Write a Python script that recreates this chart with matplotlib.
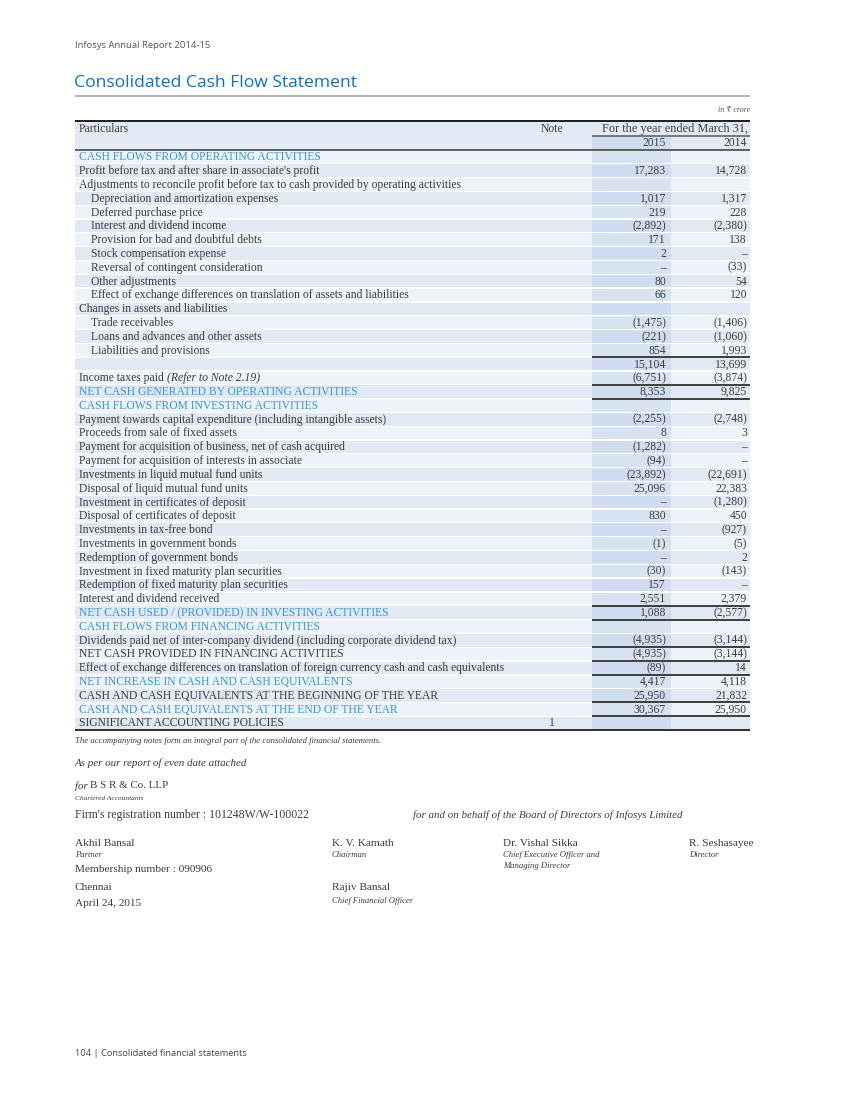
import matplotlib
matplotlib.use("Agg")
import matplotlib.pyplot as plt
from matplotlib.patches import Rectangle

# ---------------- data ----------------
labels = [
    "CASH FLOWS FROM OPERATING ACTIVITIES",
    "Profit before tax and after share in associate's profit",
    "Adjustments to reconcile profit before tax to cash provided by operating activities",
    "Depreciation and amortization expenses",
    "Deferred purchase price",
    "Interest and dividend income",
    "Provision for bad and doubtful debts",
    "Stock compensation expense",
    "Reversal of contingent consideration",
    "Other adjustments",
    "Effect of exchange differences on translation of assets and liabilities",
    "Changes in assets and liabilities",
    "Trade receivables",
    "Loans and advances and other assets",
    "Liabilities and provisions",
    "",
    "Income taxes paid",
    "NET CASH GENERATED BY OPERATING ACTIVITIES",
    "CASH FLOWS FROM INVESTING ACTIVITIES",
    "Payment towards capital expenditure (including intangible assets)",
    "Proceeds from sale of fixed assets",
    "Payment for acquisition of business, net of cash acquired",
    "Payment for acquisition of interests in associate",
    "Investments in liquid mutual fund units",
    "Disposal of liquid mutual fund units",
    "Investment in certificates of deposit",
    "Disposal of certificates of deposit",
    "Investments in tax-free bond",
    "Investments in government bonds",
    "Redemption of government bonds",
    "Investment in fixed maturity plan securities",
    "Redemption of fixed maturity plan securities",
    "Interest and dividend received",
    "NET CASH USED / (PROVIDED) IN INVESTING ACTIVITIES",
    "CASH FLOWS FROM FINANCING ACTIVITIES",
    "Dividends paid net of inter-company dividend (including corporate dividend tax)",
    "NET CASH PROVIDED IN FINANCING ACTIVITIES",
    "Effect of exchange differences on translation of foreign currency cash and cash equivalents",
    "NET INCREASE IN CASH AND CASH EQUIVALENTS",
    "CASH AND CASH EQUIVALENTS AT THE BEGINNING OF THE YEAR",
    "CASH AND CASH EQUIVALENTS AT THE END OF THE YEAR",
    "SIGNIFICANT ACCOUNTING POLICIES",
]
# row kind: 'h' blue heading, 'n' normal, 'i' indented
kinds = ["h", "n", "n", "i", "i", "i", "i", "i", "i", "i", "i", "n", "i", "i", "i", "n",
         "n", "h", "h", "n", "n", "n", "n", "n", "n", "n", "n", "n", "n", "n", "n", "n",
         "n", "h", "h", "n", "n", "n", "h", "n", "h", "n"]
notes = [""] * 41 + ["1"]
# None = blank cell, 0 = dash
v2015 = [None, 17283, None, 1017, 219, -2892, 171, 2, 0, 80, 66, None, -1475, -221, 854,
         15104, -6751, 8353, None, -2255, 8, -1282, -94, -23892, 25096, 0, 830, 0, -1, 0,
         -30, 157, 2551, 1088, None, -4935, -4935, -89, 4417, 25950, 30367, None]
v2014 = [None, 14728, None, 1317, 228, -2380, 138, 0, -33, 54, 120, None, -1406, -1060, 1993,
         13699, -3874, 9825, None, -2748, 3, 0, 0, -22691, 22383, -1280, 450, -927, -5, 2,
         -143, 0, 2379, -2577, None, -3144, -3144, 14, 4118, 21832, 25950, None]
years = ["2015", "2014"]

# ---------------- style ----------------
W, H = 850, 1100
fig = plt.figure(figsize=(W / 100, H / 100), dpi=100)
ax = fig.add_axes([0, 0, 1, 1])
ax.set_xlim(0, W)
ax.set_ylim(H, 0)
ax.axis("off")

SERIF = ["Liberation Serif", "DejaVu Serif", "DejaVu Sans"]
SANS = ["Open Sans", "DejaVu Sans"]
TXT = "#3c3c3c"
BLUE = "#3797d6"
TITLE = "#1170c0"
LIGHT = "#eef3fa"
DARK = "#e1e9f5"
C15L = "#d8e3f2"
C15D = "#d0dcef"
HEAD = "#e3eaf5"

def pt(px):
    return px * 0.72

def fmt(v):
    if v is None:
        return ""
    if v == 0:
        return "\u2013"
    s = f"{abs(v):,}"
    return f"({s})" if v < 0 else s

X0, X1 = 75, 750
C15 = 592
C14 = 671
NOTE_X = 552
TOP = 121
HDR2 = 136
BODY = 150
BOT = 730
n = len(labels)
rh = (BOT - BODY) / n
fs = pt(11.6)
fn = pt(11.6)

# page header
ax.text(75, 46, "Infosys Annual Report 2014-15", fontsize=pt(9.5), color="#555555",
        family=SANS, va="center", ha="left")
ax.text(74, 83, "Consolidated Cash Flow Statement", fontsize=pt(17.5), color=TITLE,
        family=SANS, va="center", ha="left")
ax.plot([X0, X1], [95.5, 95.5], color="#9a9a9a", lw=pt(1.5), solid_capstyle="butt")
ax.text(X1, 110, "in \u20b9 crore", fontsize=pt(8), color="#555555", family=SERIF,
        style="italic", va="center", ha="right")

# header background
ax.add_patch(Rectangle((X0, TOP), X1 - X0, BODY - TOP, color=HEAD, lw=0))
ax.add_patch(Rectangle((C15, HDR2 + 1), C14 - C15, BODY - HDR2 - 1, color=C15D, lw=0))
ax.text(79, 128.8, "Particulars", fontsize=fs, color=TXT, family=SERIF, va="center", ha="left")
ax.text(NOTE_X, 128.8, "Note", fontsize=fs, color=TXT, family=SERIF, va="center", ha="center")
ax.text(X1 - 2, 128.8, "For the year ended March 31,", fontsize=pt(12.2), color=TXT, family=SERIF,
        va="center", ha="right")
ax.plot([C15, X1], [HDR2, HDR2], color="#555555", lw=pt(1.5), solid_capstyle="butt")
ax.text(C14 - 5, 143.3, years[0], fontsize=fn, color=TXT, family=SERIF, va="center", ha="right")
ax.text(X1 - 3, 143.3, years[1], fontsize=fn, color=TXT, family=SERIF, va="center", ha="right")

# body rows
for i in range(n):
    y0 = BODY + i * rh
    bg = LIGHT if i % 2 == 0 else DARK
    cb = C15L if i % 2 == 0 else C15D
    ax.add_patch(Rectangle((X0, y0 + 0.6), X1 - X0, rh - 1.2, color=bg, lw=0))
    ax.add_patch(Rectangle((C15, y0 + 0.6), C14 - C15, rh - 1.2, color=cb, lw=0))
    yc = y0 + rh / 2 + 0.4
    k = kinds[i]
    xl = 91 if k == "i" else 79
    col = BLUE if k == "h" else TXT
    lab = labels[i]
    if lab == "Income taxes paid":
        t = ax.text(xl, yc, lab + " ", fontsize=fs, color=col, family=SERIF, va="center", ha="left")
        ax.annotate("(Refer to Note 2.19)", xycoords=t, xy=(1, 0.5), va="center", ha="left",
                    fontsize=fs, color=col, family=SERIF, style="italic")
    else:
        ax.text(xl, yc, lab, fontsize=fs, color=col, family=SERIF, va="center", ha="left")
    if notes[i]:
        ax.text(NOTE_X, yc, notes[i], fontsize=fn, color=TXT, family=SERIF, va="center", ha="center")
    ax.text(C14 - 5, yc, fmt(v2015[i]), fontsize=fn, color=TXT, family=SERIF, va="center", ha="right")
    ax.text(X1 - 3, yc, fmt(v2014[i]), fontsize=fn, color=TXT, family=SERIF, va="center", ha="right")

# total rules under value columns
rule_after = [14, 16, 17, 32, 33, 35, 36, 37, 39, 40]
for r in rule_after:
    yb = BODY + (r + 1) * rh
    ax.plot([C15, X1], [yb, yb], color="#2e2e2e", lw=pt(1.8), solid_capstyle="butt")

# main table rules
ax.plot([X0, X1], [TOP, TOP], color="#222222", lw=pt(2), solid_capstyle="butt")
ax.plot([X0, X1], [BODY, BODY], color="#333333", lw=pt(1.5), solid_capstyle="butt")
ax.plot([X0, X1], [BOT, BOT], color="#333333", lw=pt(2), solid_capstyle="butt")

# footer notes
ax.text(75, 741, "The accompanying notes form an integral part of the consolidated financial statements.",
        fontsize=pt(8.8), color=TXT, family=SERIF, style="italic", va="center", ha="left")
ax.text(75, 763, "As per our report of even date attached", fontsize=pt(11), color=TXT,
        family=SERIF, style="italic", va="center", ha="left")
t = ax.text(75, 786, "for ", fontsize=pt(11), color=TXT, family=SERIF,
            style="italic", va="center", ha="left")
ax.annotate("B S R & Co. LLP", xycoords=t, xy=(1, 0.5), va="center", ha="left",
            fontsize=pt(11), color=TXT, family=SERIF)
ax.text(75, 798, "Chartered Accountants", fontsize=pt(7.4), color=TXT, family=SERIF,
        style="italic", va="center", ha="left")
ax.text(75, 815, "Firm's registration number : 101248W/W-100022", fontsize=pt(11.8), color=TXT,
        family=SERIF, va="center", ha="left")
ax.text(413, 815, "for and on behalf of the Board of Directors of Infosys Limited", fontsize=pt(10.9),
        color=TXT, family=SERIF, style="italic", va="center", ha="left")

sig = [
    (75, 843, "Akhil Bansal", False), (75, 855, "Partner", True),
    (75, 869, "Membership number : 090906", False),
    (75, 887, "Chennai", False), (75, 903, "April 24, 2015", False),
    (332, 843, "K. V. Kamath", False), (332, 855, "Chairman", True),
    (332, 887, "Rajiv Bansal", False), (332, 901, "Chief Financial Officer", True),
    (503, 843, "Dr. Vishal Sikka", False), (503, 855, "Chief Executive Officer and", True),
    (503, 866, "Managing Director", True),
    (689, 843, "R. Seshasayee", False), (689, 855, "Director", True),
]
for x, y, s, it in sig:
    ax.text(x, y, s, fontsize=pt(8.6) if it else pt(11.2), color=TXT, family=SERIF,
            style="italic" if it else "normal", va="center", ha="left")

ax.text(75, 1054, "104 | Consolidated financial statements", fontsize=pt(9.3), color="#444444",
        family=SANS, va="center", ha="left")

fig.savefig("out.png", dpi=100)
